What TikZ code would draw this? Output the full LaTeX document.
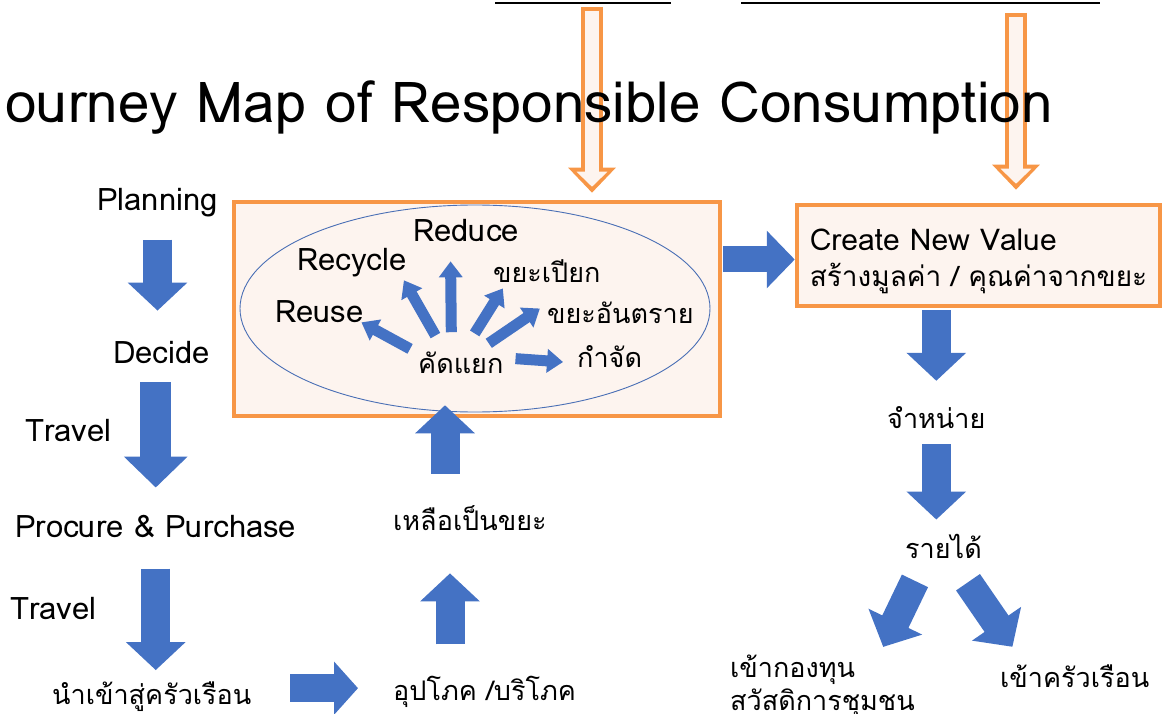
\documentclass[tikz,border=0pt]{standalone}
\usepackage{fontspec}
\setmainfont[Script=Thai]{Loma}
\usetikzlibrary{arrows.meta}

\definecolor{blk}{HTML}{4472C4}
\definecolor{orng}{HTML}{F79646}
\definecolor{pale}{HTML}{FDF4EF}
\definecolor{ring}{HTML}{4A6FB5}

\begin{document}
\begin{tikzpicture}[x=1pt,y=-1pt,
  txt/.style={inner sep=0pt, font=\fontsize{27}{33}\selectfont},
  lat/.style={inner sep=0pt, font=\fontsize{31}{36}\selectfont},
  bigarr/.style={line width=29pt, draw=blk, -{Triangle[length=28pt,width=58pt]}},
  smarr/.style={line width=11pt, draw=blk, -{Triangle[length=16pt,width=23pt]}},
  box/.style={draw=orng, line width=4.5pt, fill=pale}]

\clip (0,0) rectangle (1165,714);

% underlines of the cut off heading
\draw[line width=2pt] (495,3) -- (671,3);
\draw[line width=2pt] (741,3) -- (1100,3);

% boxes
\node[box, minimum width=486pt, minimum height=214pt] (box1) at (477,309) {};
\node[box, minimum width=363pt, minimum height=101pt, align=left,
      font=\fontsize{28}{36}\selectfont] (box2) at (978.5,255.5)
      {{\fontsize{30}{36}\selectfont\rule{0pt}{34pt}Create New Value}\\สร้างมูลค่า / คุณค่าจากขยะ};
\draw[ring, line width=0.9pt] (475,308.5) ellipse [x radius=235, y radius=103.5];

% orange arrows from the heading
\coordinate (ina) at (592,7);
\coordinate (inb) at (1016,13);
\foreach \s/\e/\g/\h in {ina/box1/7/13, inb/box2/13/19} {
  \draw[line width=22pt, orng, shorten >=\g pt, -{Triangle[length=25pt,width=46pt]}] (\s) -- (\s |- \e.north);
  \draw[line width=14pt, pale, shorten <=4pt, shorten >=\h pt, -{Triangle[length=15pt,width=30pt]}] (\s) -- (\s |- \e.north);
}

\node[anchor=base west, inner sep=0pt, font=\fontsize{56.5}{60}\selectfont] (title) at (5,123)
  {ourney Map of Responsible Consumption};

% left column
\node[lat, anchor=base west] (plan) at (97,211) {Planning};
\node[lat, anchor=base west] (decide) at (113,363) {Decide};
\node[lat, anchor=base west] (travela) at (25,441) {Travel};
\node[lat, anchor=base west] (buy) at (15,537) {Procure \& Purchase};
\node[lat, anchor=base west] (travelb) at (10,619) {Travel};
\node[txt, anchor=base west] (home) at (52,704) {นำเข้าสู่ครัวเรือน};
\node[txt, anchor=base west] (use) at (393,700) {อุปโภค /บริโภค};
\node[txt, anchor=base west] (waste) at (393,530) {เหลือเป็นขยะ};

% inside the ring
\node[lat, anchor=base west] (reduce) at (413,242) {Reduce};
\node[lat, anchor=base west] (recycle) at (297,271) {Recycle};
\node[txt, anchor=base west] (wet) at (493,283) {ขยะเปียก};
\node[lat, anchor=base west] (reuse) at (275,322) {Reuse};
\node[txt, anchor=base west] (haz) at (547,323) {ขยะอันตราย};
\node[txt, anchor=base west] (sort) at (418,373) {คัดแยก};
\node[txt, anchor=base west] (rid) at (577,367) {กำจัด};

% right column
\node[txt, anchor=base west] (sell) at (887,428) {จำหน่าย};
\node[txt, anchor=base west] (income) at (905,558) {รายได้};
\node[txt, anchor=north west, align=left] (fund) at (730,655) {เข้ากองทุน\\สวัสดิการชุมชน};
\node[txt, anchor=base west] (house) at (1000,687) {เข้าครัวเรือน};

% small arrows
\draw[smarr, shorten <=9pt] (sort.168) -- (reuse.-15);
\draw[smarr, shorten <=18pt, shorten >=3pt] (sort.146) -- (recycle.-16);
\draw[smarr, shorten <=19pt, shorten >=19pt] (sort.130) -- (reduce.216);
\draw[smarr, shorten <=21pt, shorten >=6pt] (sort.76) -- (wet.196);
\draw[smarr, shorten <=14pt, shorten >=13pt] (sort.34) -- (haz.171);
\draw[smarr, shorten <=12pt, shorten >=14pt] (sort.6) -- (rid.192);

% big arrows
\draw[bigarr, shorten <=22pt, shorten >=30pt] (plan.south) -- (plan.south |- decide.north);
\draw[bigarr, line width=31pt, -{Triangle[length=31pt,width=62pt]}, shorten <=19pt, shorten >=27pt]
  (buy.north |- decide.south) -- (buy.north);
\draw[bigarr, shorten <=31pt, shorten >=11pt] (buy.south) -- (buy.south |- home.north);
\draw[bigarr, line width=28pt, -{Triangle[length=24pt,width=52pt]}, shorten <=39pt, shorten >=35pt]
  ([yshift=8pt]home.east) -- ([yshift=8pt]home.east -| use.west);
\draw[bigarr, shorten <=31pt, shorten >=43pt] ([xshift=57pt]use.north west) -- ([xshift=57pt]waste.south west);
\draw[bigarr, shorten <=31pt, shorten >=-13pt] ([xshift=52pt]waste.north west) -- ([xshift=52pt]waste.north west |- box1.south);
\draw[bigarr, line width=26pt, -{Triangle[length=28pt,width=56pt]}, shorten <=1pt]
  ([yshift=-4pt]box1.east |- box2.west) -- ([yshift=-4pt]box2.west);
\draw[bigarr, shorten <=2pt, shorten >=25pt] (sell.north |- box2.south) -- (sell.north);
\draw[bigarr, shorten <=16pt, shorten >=14pt] (sell.south) -- (sell.south |- income.north);
\draw[bigarr, shorten <=25pt, shorten >=9pt] (income.215) -- (fund.29);
\draw[bigarr, shorten <=29pt, shorten >=21pt] (income.-57) -- (house.167);

\end{tikzpicture}
\end{document}
